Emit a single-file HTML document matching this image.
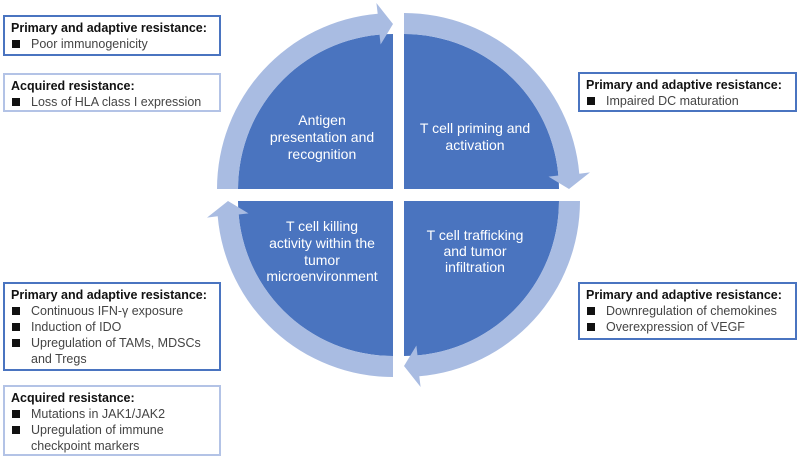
<!DOCTYPE html>
<html><head><meta charset="utf-8"><style>
body{margin:0;background:#fff;width:800px;height:463px;overflow:hidden;position:relative;font-family:"Liberation Sans",sans-serif}
.b{position:absolute;background:#fff;box-sizing:border-box;padding:3px 0 0 6px;font-size:12.5px;line-height:16px;color:#444}
.d{border:2px solid #4a74c0}
.l{border:2px solid #b3c3e6}
.b h{display:block;font-weight:bold;color:#111}
.b p{margin:0;padding-left:20px;position:relative}
.b p:before{content:"";position:absolute;left:1px;top:4px;width:8px;height:8px;background:#111}
.b p.c:before{display:none}
svg{position:absolute;left:0;top:0}
</style></head><body>
<svg width="800" height="463">
<g fill="#4a74bf">
<path d="M393 189 L238 189 A155 155 0 0 1 393 34 Z"/>
<path d="M404 189 L404 34 A155 155 0 0 1 559 189 Z"/>
<path d="M393 201 L238 201 A155 155 0 0 0 393 356 Z"/>
<path d="M404 201 L404 356 A155 155 0 0 0 559 201 Z"/>
</g>
<g fill="#a9bce2">
<path d="M238 189 L217 189 A176 176 0 0 1 377.7 13.7 L376.4 3 L393 24 L380.6 44.5 L379.5 34.6 A155 155 0 0 0 238 189 Z"/>
<path d="M404 34 L404 13 A176 176 0 0 1 579.3 173.7 L590 172.4 L569 189 L548.5 176.6 L558.4 175.5 A155 155 0 0 0 404 34 Z"/>
<path d="M559 201 L580 201 A176 176 0 0 1 419.3 376.3 L420.6 387 L404 366 L416.4 345.5 L417.5 355.4 A155 155 0 0 0 559 201 Z"/>
<path d="M393 356 L393 377 A176 176 0 0 1 217.7 216.3 L207 217.6 L228 201 L248.5 213.4 L238.6 214.5 A155 155 0 0 0 393 356 Z"/>
</g>
<g fill="#fff" font-family="Liberation Sans,sans-serif" font-size="14" text-anchor="middle">
<text x="322" y="125">Antigen</text><text x="322" y="142">presentation and</text><text x="322" y="159">recognition</text>
<text x="475" y="133">T cell priming and</text><text x="475" y="150">activation</text>
<text x="322" y="231">T cell killing</text><text x="322" y="248">activity within the</text><text x="322" y="265">tumor</text><text x="322" y="281">microenvironment</text>
<text x="475" y="240">T cell trafficking</text><text x="475" y="256">and tumor</text><text x="475" y="272">infiltration</text>
</g>
</svg>
<div class="b d" style="left:3px;top:15px;width:218px;height:41px"><h>Primary and adaptive resistance:</h><p>Poor immunogenicity</p></div>
<div class="b l" style="left:3px;top:73px;width:218px;height:39px"><h>Acquired resistance:</h><p>Loss of HLA class I expression</p></div>
<div class="b d" style="left:578px;top:72px;width:219px;height:40px"><h>Primary and adaptive resistance:</h><p>Impaired DC maturation</p></div>
<div class="b d" style="left:578px;top:282px;width:219px;height:58px"><h>Primary and adaptive resistance:</h><p>Downregulation of chemokines</p><p>Overexpression of VEGF</p></div>
<div class="b d" style="left:3px;top:282px;width:218px;height:89px"><h>Primary and adaptive resistance:</h><p>Continuous IFN-γ exposure</p><p>Induction of IDO</p><p>Upregulation of TAMs, MDSCs</p><p class="c">and Tregs</p></div>
<div class="b l" style="left:3px;top:385px;width:218px;height:71px"><h>Acquired resistance:</h><p>Mutations in JAK1/JAK2</p><p>Upregulation of immune</p><p class="c">checkpoint markers</p></div>
</body></html>
